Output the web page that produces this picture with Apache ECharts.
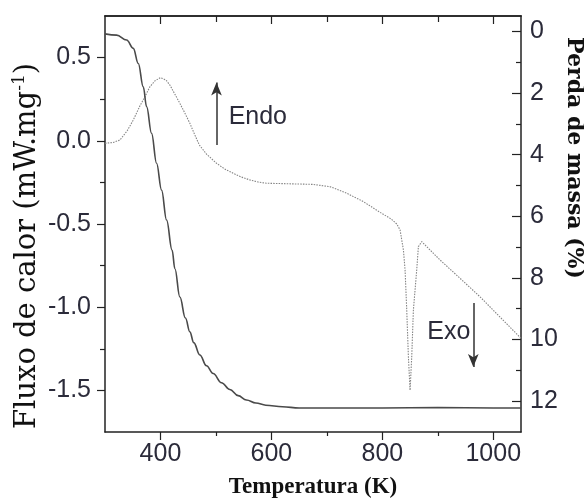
<!DOCTYPE html>
<html>
<head>
    <meta charset="utf-8">
    <title>DSC / TG</title>
    <script src="https://cdn.jsdelivr.net/npm/echarts@6/dist/echarts.min.js"></script>
    <style>
        html, body { margin: 0; padding: 0; background: #fff; }
        #chart { width: 584px; height: 499px; }
    </style>
</head>
<body>
    <div id="chart"></div>
    <script>
        // DSC curve (heat flow, left axis)
        var dscT = [300, 315, 327, 340, 351, 363, 372, 381, 390, 400, 410, 417, 426, 435, 445, 453, 462, 470,
                    483, 501, 516, 531, 546, 561, 576, 591, 615, 652, 675, 706, 736, 766, 796, 816, 826, 832,
                    838, 841, 844, 847, 850, 853, 856, 862, 865, 871, 904, 940, 976, 1050];
        var dscFlux = [-0.015, -0.01, 0.005, 0.06, 0.125, 0.21, 0.265, 0.325, 0.36, 0.38, 0.365, 0.335, 0.28, 0.225,
                       0.16, 0.105, 0.035, -0.025, -0.08, -0.135, -0.17, -0.195, -0.218, -0.235, -0.248, -0.255,
                       -0.257, -0.26, -0.262, -0.276, -0.315, -0.366, -0.43, -0.47, -0.5, -0.536, -0.656, -0.776,
                       -1.017, -1.298, -1.5, -1.298, -1.017, -0.776, -0.636, -0.606, -0.716, -0.826, -0.937, -1.187];

        // TG curve (mass loss, right axis)
        var tgT = [300, 321, 339, 351, 360, 369, 375, 384, 393, 402, 411, 421, 426, 435, 445, 453, 460, 471, 483,
                   495, 510, 525, 540, 555, 572, 590, 620, 650, 700, 800, 900, 1000, 1050];
        var tgMass = [0.08, 0.12, 0.28, 0.55, 1.04, 1.8, 2.44, 3.31, 4.28, 5.15, 6.12, 7.1, 7.7, 8.62, 9.3, 9.75,
                      10.1, 10.5, 10.85, 11.1, 11.4, 11.62, 11.82, 11.96, 12.06, 12.13, 12.18, 12.22, 12.22, 12.22,
                      12.21, 12.22, 12.22];

        // ticks
        var xMajor = [400, 600, 800, 1000];
        var xMinor = [500, 700, 900];
        var fluxMajor = [-1.5, -1.0, -0.5, 0.0, 0.5];
        var fluxMinor = [-1.25, -0.75, -0.25, 0.25];
        var massMajor = [0, 2, 4, 6, 8, 10, 12];
        var massMinor = [1, 3, 5, 7, 9, 11];

        // annotations: arrows [x, yFrom, yTo] and labels [text, x, y] in heat flow units
        var arrows = [[501, -0.025, 0.35], [964, -0.975, -1.36]];
        var notes = [['Endo', 522, 0.145], ['Exo', 880, -1.147]];

        var ink = '#222';
        var labelColor = '#2b2b3a';

        function pairs(xs, ys) {
            var out = [];
            for (var i = 0; i < xs.length; i++) out.push([xs[i], ys[i]]);
            return out;
        }

        function xAx(pos, ticks, len, inside, labels) {
            return {
                type: 'value', position: pos, min: 300, max: 1050,
                axisLine: { show: !!labels || pos == 'top', onZero: false, lineStyle: { color: ink, width: 1.5 } },
                axisTick: { show: true, inside: inside, length: len, customValues: ticks, lineStyle: { color: ink, width: 1.2 } },
                axisLabel: labels ? {
                    customValues: labels, fontSize: 25, margin: 10, color: labelColor, fontFamily: 'Liberation Sans',
                    formatter: function (v) { return String(v); }
                } : { show: false },
                splitLine: { show: false }
            };
        }

        var chart = echarts.init(document.getElementById('chart'));
        var xBottom = xAx('bottom', xMajor, 8, false, xMajor);
        xBottom.name = 'Temperatura (K)';
        xBottom.nameLocation = 'middle';
        xBottom.nameGap = 44;
        xBottom.nameMoveOverlap = false;
        xBottom.nameTextStyle = { fontFamily: 'Liberation Serif', fontWeight: 'bold', fontSize: 23, color: '#111' };

        var arrowData = arrows.map(function (a) {
            return [{ coord: [a[0], a[1]] }, { coord: [a[0], a[2]] }];
        });
        var noteData = notes.map(function (n) {
            return { name: n[0], coord: [n[1], n[2]] };
        });

        chart.setOption({
            backgroundColor: '#fff',
            animation: false,
            grid: { left: 105, right: 63, top: 16, bottom: 67, containLabel: false, outerBoundsMode: 'none' },
            xAxis: [
                xBottom,
                xAx('bottom', xMinor, 4, false, null),
                xAx('top', xMajor, 8, true, null),
                xAx('top', xMinor, 6, true, null)
            ],
            yAxis: [
                {
                    type: 'value', position: 'left', min: -1.75, max: 0.75,
                    name: 'Fluxo de calor (mW.mg{sup|-1})', nameLocation: 'middle', nameGap: 62, nameMoveOverlap: false,
                    nameTextStyle: {
                        fontFamily: 'DejaVu Serif', fontSize: 29, color: '#111', padding: [0, 44, 0, 0],
                        rich: { sup: { fontFamily: 'DejaVu Serif', fontSize: 17, color: '#111', padding: [0, 0, 15, 0] } }
                    },
                    axisLine: { show: true, onZero: false, lineStyle: { color: ink, width: 1.5 } },
                    axisTick: { customValues: fluxMajor, length: 8, lineStyle: { color: ink, width: 1.2 } },
                    axisLabel: {
                        customValues: fluxMajor, fontSize: 25, margin: 14, color: labelColor, fontFamily: 'Liberation Sans',
                        formatter: function (v) { return v.toFixed(1); }
                    },
                    splitLine: { show: false }
                },
                {
                    type: 'value', position: 'left', min: -1.75, max: 0.75,
                    axisLine: { show: false, onZero: false },
                    axisTick: { show: true, customValues: fluxMinor, length: 5, lineStyle: { color: ink, width: 1.2 } },
                    axisLabel: { show: false },
                    splitLine: { show: false }
                },
                {
                    type: 'value', position: 'right', min: -0.5, max: 13, inverse: true,
                    name: 'Perda de massa (%)', nameLocation: 'middle', nameGap: 42, nameRotate: -90, nameMoveOverlap: false,
                    nameTextStyle: { fontFamily: 'DejaVu Serif', fontWeight: 'bold', fontSize: 22, color: '#111', padding: [0, 132, 0, 0] },
                    axisLine: { show: true, onZero: false, lineStyle: { color: ink, width: 1.5 } },
                    axisTick: { inside: true, customValues: massMajor, length: 9, lineStyle: { color: ink, width: 1.2 } },
                    axisLabel: { customValues: massMajor, fontSize: 25, margin: 9, color: labelColor, fontFamily: 'Liberation Sans' },
                    splitLine: { show: false }
                },
                {
                    type: 'value', position: 'right', min: -0.5, max: 13, inverse: true,
                    axisLine: { show: false, onZero: false },
                    axisTick: { show: true, inside: true, customValues: massMinor, length: 5, lineStyle: { color: ink, width: 1.2 } },
                    axisLabel: { show: false },
                    splitLine: { show: false }
                }
            ],
            series: [
                {
                    name: 'DSC', type: 'line', xAxisIndex: 0, yAxisIndex: 0,
                    data: pairs(dscT, dscFlux), showSymbol: false, symbol: 'none',
                    lineStyle: { color: '#858585', width: 1.1, type: [1.5, 1.2] },
                    markLine: {
                        silent: true, symbol: ['none', 'arrow'], symbolSize: [8, 13],
                        lineStyle: { color: '#333', width: 1.5, type: 'solid' },
                        label: { show: false },
                        data: arrowData
                    },
                    markPoint: {
                        silent: true, symbol: 'circle', symbolSize: 1,
                        itemStyle: { color: 'rgba(0,0,0,0)' },
                        label: { show: true, position: 'right', distance: 0, formatter: '{b}', fontSize: 25, color: labelColor, fontFamily: 'Liberation Sans' },
                        data: noteData
                    }
                },
                {
                    name: 'TG', type: 'line', xAxisIndex: 0, yAxisIndex: 2,
                    data: pairs(tgT, tgMass), showSymbol: false, symbol: 'none',
                    smooth: 0.4, smoothMonotone: 'x',
                    lineStyle: { color: '#4a4a4a', width: 1.6 }
                }
            ]
        });
    </script>
</body>
</html>
